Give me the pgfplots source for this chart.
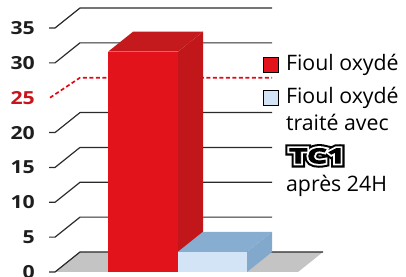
\documentclass[border=0pt]{standalone}
\usepackage{pgfplots}
\pgfplotsset{compat=1.18}
\usepackage{fontspec}
\setmainfont{Open Sans}
\newfontface\tickfont{Open Sans Bold}[FakeStretch=1.18]
\newfontface\tcOuter{Open Sans Bold}[FakeStretch=1.55, FakeBold=42]
\newfontface\tcInner{Open Sans Bold}[FakeStretch=1.55, FakeBold=22]
\newfontface\tcCore{Open Sans Bold}[FakeStretch=1.55, FakeBold=4]
\definecolor{redF}{HTML}{E3131B}
\definecolor{redS}{HTML}{C1171B}
\definecolor{redT}{HTML}{C41A1D}
\definecolor{bluF}{HTML}{D2E4F6}
\definecolor{bluS}{HTML}{82A9CB}
\definecolor{bluT}{HTML}{87AED0}
\definecolor{floorC}{HTML}{C4C4C4}
\definecolor{gridC}{HTML}{2B2B2B}
\definecolor{dashC}{HTML}{E30613}
\definecolor{lab25}{HTML}{C8141C}
\definecolor{tickC}{HTML}{1E1E1E}
\newcommand{\tcone}{{\fontsize{20.5}{25}\selectfont\hspace{3pt}\rlap{\color{black}\tcOuter TC1}\rlap{\color{white}\tcInner TC1}\color{black}\tcCore TC1}}
\begin{document}
\begin{tikzpicture}
\begin{axis}[
  width=406pt, height=277pt, scale only axis,
  xmin=0, xmax=406, ymin=-0.717, ymax=39.02,
  axis line style={draw=none}, tick style={draw=none},
  xtick=\empty,
  ytick={0,5,10,15,20,25,30,35},
  yticklabels={0,5,10,15,20,\textcolor{lab25}{25},30,35},
  yticklabel style={font=\fontsize{18}{18}\selectfont\tickfont, text=tickC, anchor=east, inner sep=0pt, xshift=35pt},
  clip=false,
  legend style={at={(axis cs:263,31.6)}, anchor=north west, draw=none, fill=none, inner sep=0pt,
     font=\fontsize{21.3}{25}\selectfont, row sep=10pt, column sep=0pt},
  legend cell align=left,
  legend image code/.code={\draw[#1, line width=0.9pt] (0pt,-10pt) rectangle (15pt,5pt);},
]
% floor
\addplot[fill=floorC, draw=none, forget plot] coordinates {(55,0) (298,0) (323,2.87) (80,2.87)} -- cycle;
% back grid lines
\addplot[gridC, line width=1.2pt, forget plot] coordinates {(49,0) (55,0) (80,2.87) (323,2.87)};
\addplot[gridC, line width=1.2pt, forget plot] coordinates {(49,5) (55,5) (80,7.87) (272,7.87)};
\addplot[gridC, line width=1.2pt, forget plot] coordinates {(49,10) (55,10) (80,12.87) (272,12.87)};
\addplot[gridC, line width=1.2pt, forget plot] coordinates {(49,15) (55,15) (80,17.87) (272,17.87)};
\addplot[gridC, line width=1.2pt, forget plot] coordinates {(49,20) (55,20) (80,22.87) (272,22.87)};
\addplot[gridC, line width=1.2pt, forget plot] coordinates {(49,30) (55,30) (80,32.87) (272,32.87)};
\addplot[gridC, line width=1.2pt, forget plot] coordinates {(49,35) (55,35) (80,37.87) (272,37.87)};
% dashed threshold 25
\addplot[dashC, line width=1.7pt, dash pattern=on 4pt off 2.5pt, forget plot] coordinates {(50,25) (80,27.87) (272,27.87)};
% red bar (31.6)
\addplot[fill=redF, draw=none, forget plot] coordinates {(108,0) (178,0) (178,31.6) (108,31.6)} -- cycle;
\addplot[fill=redS, draw=none, forget plot] coordinates {(178,0) (203,2.87) (203,34.47) (178,31.6)} -- cycle;
\addplot[fill=redT, draw=none, forget plot] coordinates {(108,31.6) (178,31.6) (203,34.47) (133,34.47)} -- cycle;
% blue bar (2.9)
\addplot[fill=bluF, draw=none, forget plot] coordinates {(178,0) (247,0) (247,2.9) (178,2.9)} -- cycle;
\addplot[fill=bluS, draw=none, forget plot] coordinates {(247,0) (272,2.87) (272,5.77) (247,2.9)} -- cycle;
\addplot[fill=bluT, draw=none, forget plot] coordinates {(178,2.9) (247,2.9) (272,5.77) (203,5.77)} -- cycle;
\addlegendimage{fill=redF, draw=black}
\addlegendentry{\hspace{5pt}Fioul oxydé}
\addlegendimage{fill=bluF, draw=black}
\addlegendentry{\hspace{5pt}\begin{tabular}[t]{@{}l@{}}Fioul oxydé\\[2pt]traité avec\\[8pt]\tcone\\[3pt]après 24H\end{tabular}}
\end{axis}
\pgfresetboundingbox
\path[use as bounding box] (current axis.south west) rectangle (current axis.north east);
\end{tikzpicture}
\end{document}
